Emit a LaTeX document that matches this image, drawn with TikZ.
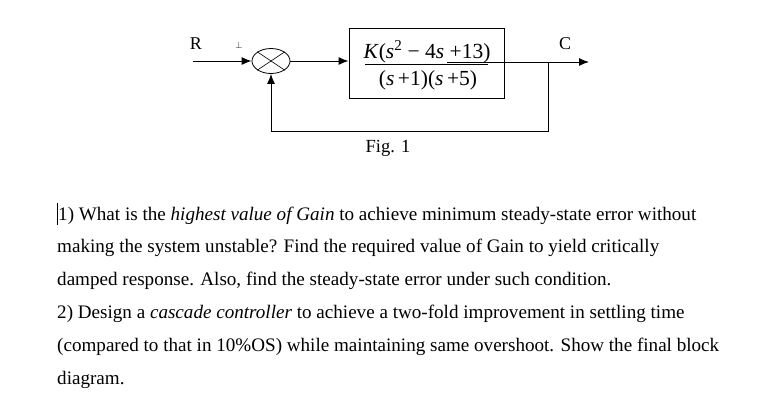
\documentclass[tikz,border=0pt]{standalone}
\usepackage{fontspec}
\setmainfont{Liberation Serif}
\usetikzlibrary{arrows.meta,shapes.geometric}

\begin{document}
\begin{tikzpicture}[x=1pt, y=-1pt,
		sig/.style={line width=1pt, -{Latex[length=10pt, width=8pt]}},
		wire/.style={line width=1pt},
		textline/.style={anchor=base west, inner sep=0pt, font=\fontsize{19.1}{22}\selectfont}]
		%%%%% START %%%%%
		\useasboundingbox (0, 0) rectangle (764, 405);
		
		\node[draw, ellipse, line width=0.8pt, minimum width=38, minimum height=25, inner sep=0pt] (sum) at (271, 61) {};
		\draw[line width=0.6pt] (sum.north west) -- (sum.south east);
		\draw[line width=0.6pt] (sum.south west) -- (sum.north east);
		
		\node[draw, line width=1pt, minimum width=155, minimum height=70, inner sep=0pt] (plant) at (426.5, 63) {};
		\node[font=\fontsize{21.5}{24}\selectfont, inner sep=0pt, anchor=base] (num) at (427, 58) {\textit{K}(\textit{s}\textsuperscript{2} − 4\textit{s} +13)};
		\node[font=\fontsize{21.5}{24}\selectfont, inner sep=0pt, anchor=base] (den) at (428, 85) {(\textit{s}\,+1)(\textit{s}\,+5)};
		\draw[line width=1pt] (365, 64) -- (488, 64);
		
		\node[font=\fontsize{18}{20}\selectfont, inner sep=0pt] (r) at (196, 44) {R};
		\node[inner sep=0pt] (plus) at (239, 45) {\small$\perp$};
		\node[font=\fontsize{18}{20}\selectfont, inner sep=0pt] (c) at (565, 44) {C};
		
		\coordinate (in) at (193, 61);
		\coordinate (tap) at (447, 62);
		\coordinate (branch) at (548, 62);
		\coordinate (out) at (589, 62);
		
		\draw[sig] (in) -- (sum.west);
		\draw[sig] (sum.east) -- (plant.west |- sum.east);
		\draw[sig] (tap) -- (out);
		\draw[sig] (branch) -- (548, 131) -| (sum.south);
		
		\node[font=\fontsize{18.5}{20}\selectfont, inner sep=0pt] (fig) at (388, 148) {Fig. 1};
		
		\draw[line width=0.7pt] (57.5, 203) -- (57.5, 225);
		\node[textline] (q1) at (58, 220) {1) What is the \textit{highest value of Gain} to achieve minimum steady-state error without};
		\node[textline] (q2) at (57, 252) {making the system unstable? Find the required value of Gain to yield critically};
		\node[textline] (q3) at (57, 285) {damped response. Also, find the steady-state error under such condition.};
		\node[textline] (q4) at (57, 318) {2) Design a \textit{cascade controller} to achieve a two-fold improvement in settling time};
		\node[textline] (q5) at (57, 351) {(compared to that in 10\%OS) while maintaining same overshoot. Show the final block};
		\node[textline] (q6) at (57, 384) {diagram.};
		%%%%% END %%%%%
	\end{tikzpicture}
\end{document}
